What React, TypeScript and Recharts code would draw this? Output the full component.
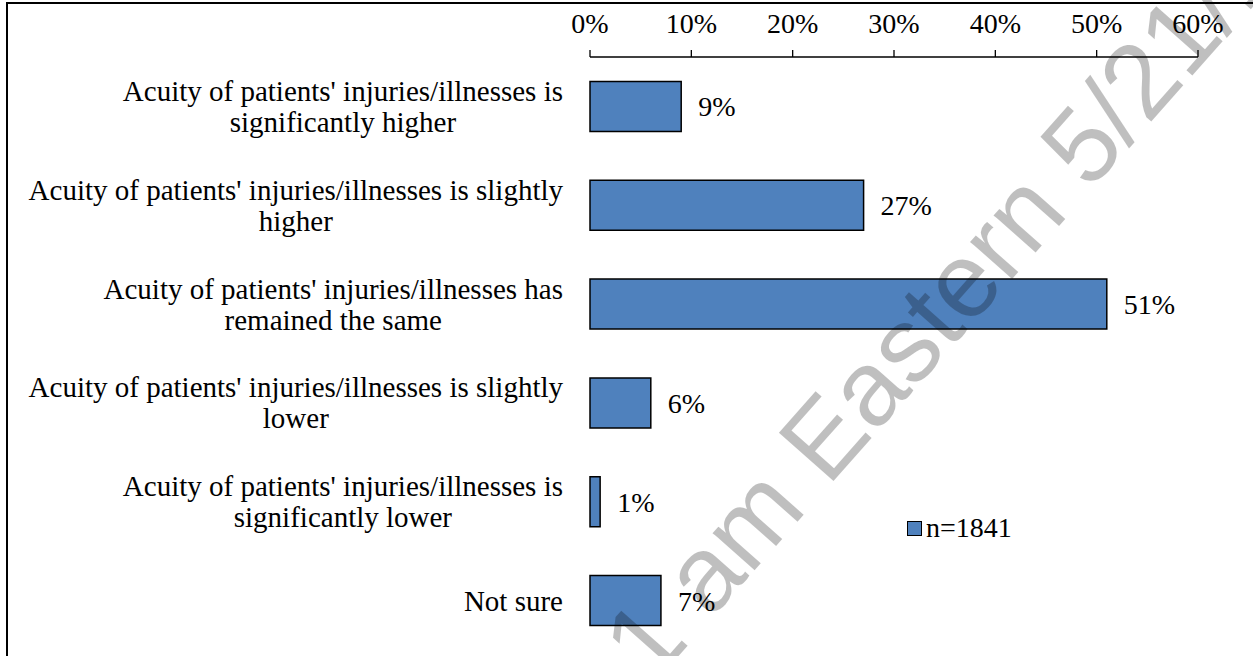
import React from 'react';
import { BarChart, Bar, XAxis, YAxis, LabelList, Legend } from 'recharts';

const categories = [
  "Acuity of patients' injuries/illnesses is\nsignificantly higher",
  "Acuity of patients' injuries/illnesses is slightly\nhigher",
  "Acuity of patients' injuries/illnesses has\nremained the same",
  "Acuity of patients' injuries/illnesses is slightly\nlower",
  "Acuity of patients' injuries/illnesses is\nsignificantly lower",
  'Not sure',
];
const values = [9, 27, 51, 6, 1, 7];
const xTicks = [0, 10, 20, 30, 40, 50, 60];
const boundaryTicks = [0, 1, 2, 3, 4, 5, 6];
const seriesName = 'n=1841';
const watermark = '1 am Eastern 5/21/19';

const data = categories.map((c, i) => ({ category: c, value: values[i] }));

const FONT = "'Liberation Serif', 'Times New Roman', serif";
const FS = 28;
const LABEL_FS = 29;
const BLUE = '#4F81BD';

let ctx: CanvasRenderingContext2D | null = null;
function measure(text: string): number {
  if (!ctx) {
    const c = document.createElement('canvas');
    ctx = c.getContext('2d');
  }
  if (!ctx) return text.length * LABEL_FS * 0.45;
  ctx.font = `${LABEL_FS}px ${FONT}`;
  return ctx.measureText(text).width;
}

const CategoryTick = (props: any) => {
  const { x, y, payload } = props;
  const lines = String(payload.value).split('\n');
  const maxW = Math.max(...lines.map((l) => measure(l)));
  const cx = x - maxW / 2;
  const lh = 31;
  const startY = y - ((lines.length - 1) * lh) / 2;
  return (
    <text textAnchor="middle" dominantBaseline="central" fontFamily={FONT} fontSize={LABEL_FS} fill="#000">
      {lines.map((l, i) => (
        <tspan key={i} x={cx} y={startY + i * lh}>
          {l}
        </tspan>
      ))}
    </text>
  );
};

const LegendContent = (props: any) => {
  const name = props.payload && props.payload[0] ? props.payload[0].value : seriesName;
  return (
    <div style={{ display: 'flex', alignItems: 'center', fontFamily: FONT, fontSize: FS, color: '#000', whiteSpace: 'nowrap' }}>
      <span style={{ display: 'inline-block', width: 15, height: 15, background: BLUE, border: '1.5px solid #000', boxSizing: 'border-box', marginRight: 4 }} />
      <span>{name}</span>
    </div>
  );
};

export default function App() {
  return (
    <div style={{ position: 'absolute', left: 0, top: 0, width: 1253, height: 656, overflow: 'hidden', background: '#fff' }}>
      <div style={{ position: 'absolute', left: 6, top: 2, width: 1400, height: 800, border: '2px solid #000', boxSizing: 'border-box' }} />
      <div style={{ position: 'absolute', left: 0, top: 0 }}>
        <BarChart
          width={1253}
          height={656}
          data={data}
          layout="vertical"
          margin={{ top: 27, right: 55, bottom: 6, left: 0 }}
          barCategoryGap="24.7%"
        >
          <XAxis
            type="number"
            orientation="top"
            domain={[0, 60]}
            ticks={xTicks}
            interval={0}
            height={30}
            tickFormatter={(v: number) => `${v}%`}
            tickSize={7}
            tickMargin={17}
            axisLine={{ stroke: '#000', strokeWidth: 1.3 }}
            tickLine={{ stroke: '#000', strokeWidth: 1.3 }}
            tick={{ fill: '#000', fontSize: FS, fontFamily: FONT }}
          />
          <YAxis
            yAxisId={0}
            type="number"
            domain={[0, 6]}
            ticks={boundaryTicks}
            interval={0}
            allowDataOverflow
            width={0}
            tick={false}
            tickSize={8}
            axisLine={{ stroke: '#000', strokeWidth: 1.3 }}
            tickLine={{ stroke: '#000', strokeWidth: 1.3 }}
          />
          <YAxis
            yAxisId={1}
            type="category"
            dataKey="category"
            width={590}
            interval={0}
            tickSize={0}
            tickMargin={27}
            axisLine={false}
            tickLine={false}
            tick={<CategoryTick />}
          />
          <Legend
            layout="vertical"
            align="center"
            verticalAlign="middle"
            content={<LegendContent />}
            wrapperStyle={{ left: 907, top: 512, width: 'auto', height: 'auto' }}
          />
          <Bar yAxisId={1} dataKey="value" name={seriesName} fill={BLUE} stroke="#000" strokeWidth={1.5} isAnimationActive={false}>
            <LabelList
              dataKey="value"
              position="right"
              offset={17}
              formatter={(v: any) => `${v}%`}
              fill="#000"
              fontSize={FS}
              fontFamily={FONT}
            />
          </Bar>
        </BarChart>
      </div>
      <svg width={1253} height={656} style={{ position: 'absolute', left: 0, top: 0, pointerEvents: 'none' }}>
        <text
          x={652}
          y={686}
          transform="rotate(-48.5 652 686)"
          fontFamily="'Liberation Sans', Arial, sans-serif"
          fontSize={106}
          fill="#000"
          fillOpacity={0.25}
        >
          {watermark}
        </text>
      </svg>
    </div>
  );
}
